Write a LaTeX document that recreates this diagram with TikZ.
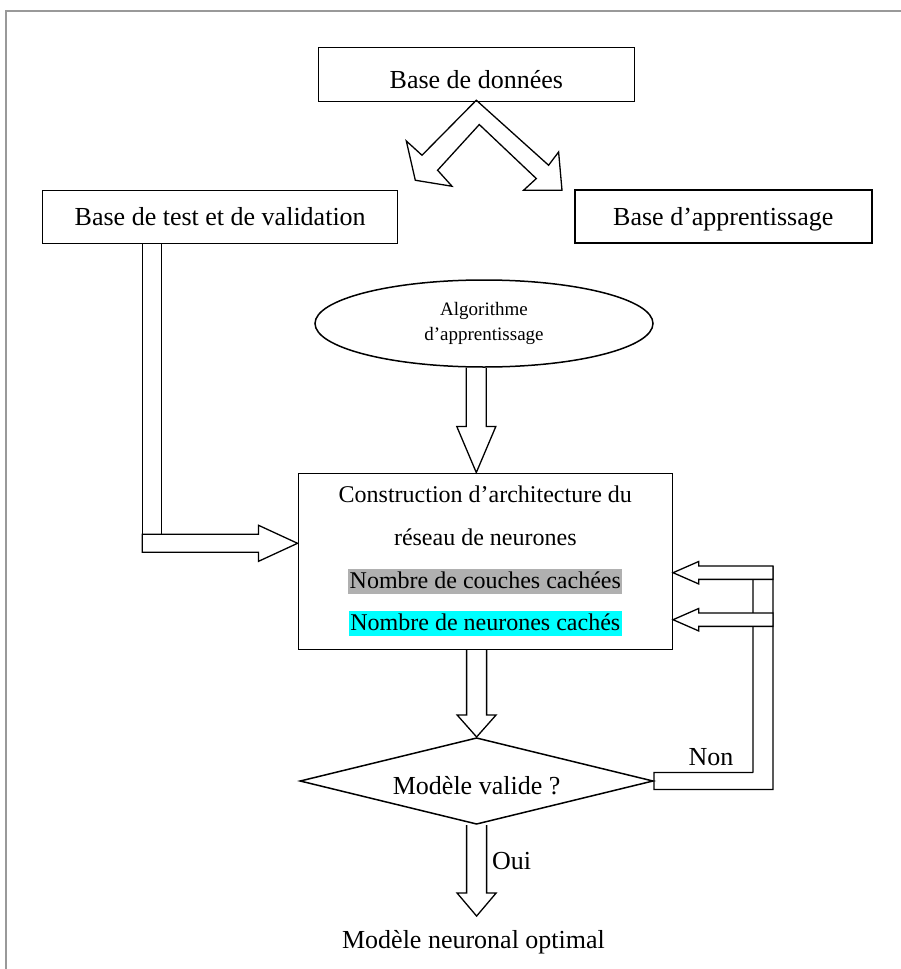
\documentclass[tikz,border=0pt]{standalone}
\usepackage{fontspec}
\setmainfont{Liberation Serif}
\usetikzlibrary{shapes.geometric,positioning,calc}

\definecolor{surligne}{RGB}{176,176,176}
\definecolor{cyanvif}{RGB}{0,255,255}

\newcommand{\grand}{\fontsize{26}{30}\selectfont}
\newcommand{\surligner}[2]{{\setlength{\fboxsep}{1.5pt}\colorbox{#1}{\rule[-4pt]{0pt}{22pt}#2}}}

\tikzset{
  encadre/.style={draw, line width=1.5pt, inner sep=0pt},
  boite/.style={encadre, minimum height=53, text height=17.5pt, text depth=0pt, font=\grand},
  trait/.style={line width=1.3pt},
  bloc/.style={draw, line width=1.3pt},
  blocplein/.style={bloc, fill=white},
}

% fleche bloc vers le bas : depart, pointe, longueur de la tete
\newcommand{\flechebas}[3]{%
  \draw[bloc] ($(#2 |- #1)+(-10,0)$) -- ($(#2)+(-10,-#3)$) -- ($(#2)+(-19.5,-#3)$) -- (#2)
    -- ($(#2)+(19.5,-#3)$) -- ($(#2)+(10,-#3)$) -- ($(#2 |- #1)+(10,0)$);}

\begin{document}
\begin{tikzpicture}[x=1pt, y=-1pt]
  \useasboundingbox (0,0) rectangle (901,969);
  % Cadre
  \draw[gray!80, line width=2pt] (6,969) -- (6,11) -- (901,11);

  % Bases
  \node[boite, minimum width=316, minimum height=54, text height=28.5pt] (bdd) at (476.3,74.5) {Base de données};
  \node[boite, minimum width=355] (test) at (220.2,217) {Base de test et de validation};
  \node[boite, minimum width=297] (app) at (723.3,216.7) {Base d’apprentissage};

  % Partage de la base
  \draw[bloc, shift={($(bdd.south)+(0,-2)$)}] (0,0) -- (-54.3,55) -- (-70,40.7) -- (-61,80)
    -- (-24.3,86) -- (-38.7,70) -- (3,24.3) -- (60,78.3) -- (47.3,90) -- (85.7,90)
    -- (82.3,51.7) -- (72.3,65) -- cycle;

  % Algorithme
  \node[encadre, ellipse, minimum width=338, minimum height=87, align=center,
    font=\fontsize{19}{24.7}\selectfont] (algo) at (484,323.5) {Algorithme\\d’apprentissage};

  % Construction du reseau
  \node[encadre, minimum width=374, minimum height=176, align=center,
    font=\fontsize{24}{42.7}\selectfont] (constr) at (485.3,561.3)
    {Construction d’architecture du\\réseau de neurones\\
     \surligner{surligne}{Nombre de couches cachées}\\
     \surligner{cyanvif}{Nombre de neurones cachés}};

  % Test
  \node[encadre, diamond, aspect=4.06, minimum width=353.3, minimum height=86.6,
    text height=27pt, text depth=0pt, font=\grand] (valide) at (476.6,781) {Modèle valide ?};
  \node[font=\grand, anchor=base] (optim) at (473.5,948) {Modèle neuronal optimal};
  \node[font=\grand, anchor=base] (non) at (711,765) {Non};
  \node[font=\grand, anchor=base] (oui) at (511.7,869.3) {Oui};

  % Fleches verticales
  \coordinate (p1) at (constr.north -| bdd.south);
  \coordinate (p3) at ($(valide.south)+(0,91)$);
  \flechebas{algo.south}{p1}{46}
  \flechebas{constr.south}{valide.north}{22}
  \flechebas{valide.south}{p3}{23}

  % Base de test vers la construction
  \coordinate (entree) at ($(constr.west)+(0,-18)$);
  \draw[trait] ($(test.south)+(-59,0)$) -- ($(test.south |- entree)+(-59,-9)$);
  \draw[trait] ($(test.south)+(-78,0)$) -- ($(test.south |- entree)+(-78,9)$);
  \draw[blocplein] ($(test.south |- entree)+(-78,-9)$) -- ($(entree)+(-39,-9)$)
    -- ($(entree)+(-39,-18)$) -- (entree) -- ($(entree)+(-39,18)$)
    -- ($(entree)+(-39,9)$) -- ($(test.south |- entree)+(-78,9)$) -- cycle;

  % Retour (Non)
  \coordinate (r1) at ($(constr.east)+(0,11.4)$);
  \coordinate (r2) at ($(constr.east)+(0,58.4)$);
  \draw[trait] ($(valide.east)+(99,-8.5)$) -- ($(valide.east)+(0,-8.5)$)
    -- ($(valide.east)+(0,8.5)$) -- ($(valide.east)+(119,8.5)$) -- ($(r1)+(100,-6.65)$);
  \draw[trait] ($(valide.east)+(99,-8.5)$) -- ($(r1)+(80,6.65)$);
  \foreach \r in {r1,r2}
    \draw[blocplein] (\r) -- ++(25.6,-11.2) -- ++(0,4.55) -- ++(74.4,0)
      -- ++(0,13.3) -- ++(-74.4,0) -- ++(0,4.55) -- cycle;
\end{tikzpicture}
\end{document}
